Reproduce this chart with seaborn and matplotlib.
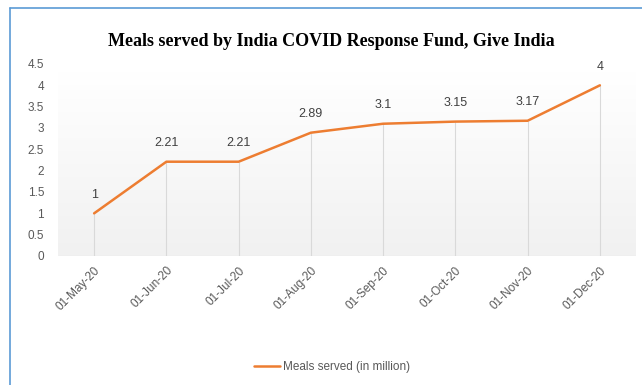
import matplotlib
matplotlib.use("Agg")
import matplotlib.pyplot as plt
import seaborn as sns
import numpy as np
import pandas as pd
from matplotlib.lines import Line2D

dates = ["01-May-20", "01-Jun-20", "01-Jul-20", "01-Aug-20", "01-Sep-20", "01-Oct-20", "01-Nov-20", "01-Dec-20"]
meals = [1, 2.21, 2.21, 2.89, 3.1, 3.15, 3.17, 4]
label_texts = ["1", "2.21", "2.21", "2.89", "3.1", "3.15", "3.17", "4"]
yticks = [0, 0.5, 1, 1.5, 2, 2.5, 3, 3.5, 4, 4.5]
ytick_labels = ["0", "0.5", "1", "1.5", "2", "2.5", "3", "3.5", "4", "4.5"]
title = "Meals served by India COVID Response Fund, Give India"
series_name = "Meals served (in million)"

df = pd.DataFrame({"date": dates, "meals": meals})
df["pos"] = range(len(df))

sns.set_theme(style="white")
plt.rcParams["font.family"] = ["Liberation Sans", "DejaVu Sans"]

fig = plt.figure(figsize=(6.42, 3.85), dpi=100)
ax = fig.add_axes([58/642, 1-256/385, (636-58)/642, (256-64)/385])

# gradient background: white at top, light grey at bottom
grad = np.linspace(0.0, 1.0, 256).reshape(-1, 1)
cmap = matplotlib.colors.LinearSegmentedColormap.from_list("g", ["#f1f1f1", "#ffffff"])
ax.imshow(grad, extent=(-0.5, 7.5, 0, 4.3), aspect="auto", cmap=cmap, origin="lower", zorder=0)

ax.vlines(df["pos"], 0, df["meals"], colors="#d9d9d9", linewidth=0.8, zorder=1)
sns.lineplot(data=df, x="pos", y="meals", ax=ax, color="#ed7d31", linewidth=1.8, zorder=3, legend=False)

for x, y, t in zip(df["pos"], df["meals"], label_texts):
    ax.annotate(t, (x, y), xytext=(0, 9), textcoords="offset points", ha="center", va="bottom",
                fontsize=9, color="#404040")

ax.set_xlim(-0.5, 7.5)
ax.set_ylim(0, 4.5)
ax.set_yticks(yticks)
ax.set_yticklabels(ytick_labels, fontsize=8.5, color="#595959")
ax.set_xticks(df["pos"])
ax.set_xticklabels(dates, rotation=45, ha="right", rotation_mode="anchor", fontsize=8.5, color="#595959")
ax.tick_params(axis="x", length=0, pad=6)
ax.tick_params(axis="y", length=0, pad=10)
ax.set_xlabel("")
ax.set_ylabel("")
for s in ax.spines.values():
    s.set_visible(False)
ax.axhline(0, color="#d9d9d9", linewidth=0.8, zorder=2)

fig.text(331/642, 1-42/385, title, ha="center", va="center", fontsize=13, fontweight="bold",
         family=["Liberation Serif", "DejaVu Serif"], color="#000000")

handle = Line2D([0], [0], color="#ed7d31", linewidth=1.8)
fig.legend([handle], [series_name], loc="center", bbox_to_anchor=(332/642, 1-367/385), frameon=False,
           fontsize=8.5, handlelength=2.2, handletextpad=0.2, labelcolor="#595959")

# frame lines (blue border)
fig.add_artist(Line2D([10/642, 10/642], [0, 1-8/385], transform=fig.transFigure, color="#5b9bd5", linewidth=1.2))
fig.add_artist(Line2D([10/642, 1], [1-8/385, 1-8/385], transform=fig.transFigure, color="#5b9bd5", linewidth=1.2))

fig.savefig("out.png", dpi=100)
